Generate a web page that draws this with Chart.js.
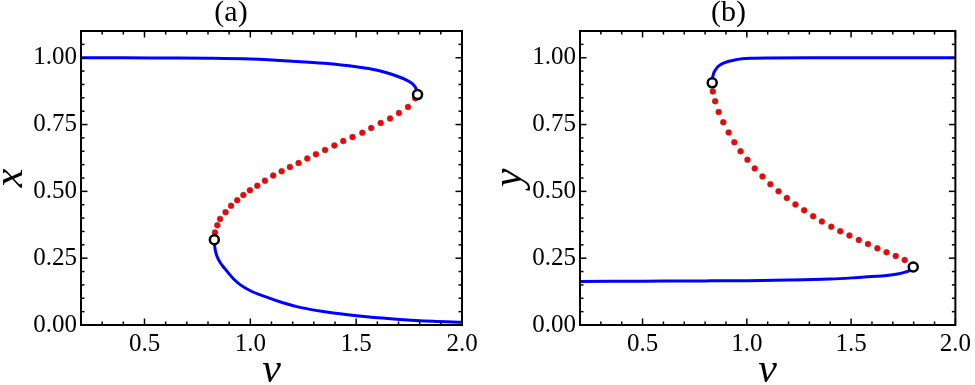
<!DOCTYPE html>
<html>
<head>
<meta charset="utf-8">
<script src="https://cdn.jsdelivr.net/npm/chart.js@4/dist/chart.umd.min.js"></script>
<style>
  html, body { margin: 0; padding: 0; background: #fff; }
  #wrap { position: relative; width: 975px; height: 385px; }
  canvas { position: absolute; top: 0; }
  #ca { left: 0; }
  #cb { left: 499px; }
</style>
</head>
<body>
<div id="wrap">
  <canvas id="ca" width="490" height="385"></canvas>
  <canvas id="cb" width="476" height="385"></canvas>
</div>
<script>
// ticks
var xMajor = [0.5, 1.0, 1.5, 2.0];
var xTickLabels = ['0.5', '1.0', '1.5', '2.0'];
var xMinor = [0.3, 0.4, 0.6, 0.7, 0.8, 0.9, 1.1, 1.2, 1.3, 1.4, 1.6, 1.7, 1.8, 1.9];
var yMajor = [0, 0.25, 0.5, 0.75, 1.0];
var yTickLabels = ['0.00', '0.25', '0.50', '0.75', '1.00'];
var yMinor = [0.05, 0.1, 0.15, 0.2, 0.3, 0.35, 0.4, 0.45, 0.55, 0.6, 0.65, 0.7, 0.8, 0.85, 0.9, 0.95, 1.05];

// panel (a): x vs nu
var aUpperNu = [0.2, 0.4, 0.6, 0.8, 1.0, 1.2, 1.35, 1.5, 1.6, 1.66, 1.71, 1.75, 1.775, 1.786, 1.790];
var aUpperX  = [1.0, 1.0, 0.999, 0.998, 0.995, 0.987, 0.979, 0.966, 0.953, 0.940, 0.926, 0.911, 0.895, 0.878, 0.862];
var aLowerNu = [0.830, 0.8305, 0.832, 0.8345, 0.838, 0.843, 0.850, 0.859, 0.870, 0.884, 0.899, 0.920, 0.950, 0.998, 1.077, 1.15, 1.234, 1.392, 1.55, 1.707, 1.864, 2.0];
var aLowerX  = [0.318, 0.306, 0.293, 0.280, 0.268, 0.256, 0.244, 0.232, 0.220, 0.207, 0.192, 0.173, 0.152, 0.129, 0.104, 0.084, 0.066, 0.045, 0.031, 0.021, 0.014, 0.010];
var aDotsNu = [0.833, 0.844, 0.857, 0.883, 0.909, 0.938, 0.967, 0.998, 1.033, 1.069, 1.108, 1.148, 1.187, 1.228,
               1.269, 1.310, 1.353, 1.397, 1.439, 1.483, 1.529, 1.571, 1.616, 1.660, 1.702, 1.745, 1.779];
var aDotsX  = [0.346, 0.373, 0.397, 0.422, 0.446, 0.467, 0.486, 0.504, 0.521, 0.540, 0.559, 0.575, 0.591, 0.606,
               0.623, 0.639, 0.655, 0.672, 0.688, 0.703, 0.719, 0.737, 0.756, 0.773, 0.793, 0.816, 0.848];
var aFoldNu = [0.830, 1.790];
var aFoldX  = [0.319, 0.862];

// panel (b): y vs nu
var bUpperNu = [0.834, 0.835, 0.838, 0.843, 0.851, 0.862, 0.875, 0.894, 0.914, 0.945, 0.978, 1.03, 1.1, 1.3, 1.6, 2.0];
var bUpperY  = [0.906, 0.920, 0.933, 0.946, 0.956, 0.967, 0.975, 0.982, 0.987, 0.992, 0.996, 0.998, 0.999, 1.0, 1.0, 1.0];
var bLowerNu = [0.2, 0.5, 0.8, 1.0, 1.2, 1.4, 1.52, 1.62, 1.68, 1.73, 1.76, 1.785, 1.798];
var bLowerY  = [0.163, 0.164, 0.165, 0.166, 0.168, 0.172, 0.177, 0.182, 0.186, 0.192, 0.198, 0.206, 0.217];
var bDotsNu = [0.837, 0.848, 0.865, 0.887, 0.913, 0.940, 0.970, 1.003, 1.038, 1.075, 1.113, 1.152, 1.192, 1.233,
               1.275, 1.318, 1.360, 1.405, 1.448, 1.492, 1.537, 1.581, 1.626, 1.670, 1.714, 1.757];
var bDotsY  = [0.874, 0.837, 0.797, 0.759, 0.720, 0.684, 0.650, 0.618, 0.586, 0.556, 0.527, 0.500, 0.475, 0.451,
               0.429, 0.407, 0.387, 0.368, 0.351, 0.335, 0.318, 0.303, 0.287, 0.272, 0.258, 0.243];
var bFoldNu = [0.834, 1.798];
var bFoldY  = [0.906, 0.217];

function pts(xs, ys) {
    return xs.map(function (v, i) { return {x: v, y: ys[i]}; });
}

var framePlugin = {
    id: 'frame',
    afterDatasetsDraw: function (chart) {
        var ctx = chart.ctx, a = chart.chartArea;
        var sx = chart.scales.x, sy = chart.scales.y;
        ctx.save();
        ctx.strokeStyle = '#000';
        ctx.lineWidth = 1.5;
        function seg(x1, y1, x2, y2) {
            ctx.beginPath(); ctx.moveTo(x1, y1); ctx.lineTo(x2, y2); ctx.stroke();
        }
        function xt(v, len) {
            var p = sx.getPixelForValue(v);
            seg(p, a.bottom, p, a.bottom - len);
            seg(p, a.top, p, a.top + len);
        }
        function yt(v, len) {
            var p = sy.getPixelForValue(v);
            seg(a.left, p, a.left + len, p);
            seg(a.right, p, a.right - len, p);
        }
        xMinor.forEach(function (v) { xt(v, 3.5); });
        xMajor.forEach(function (v) { xt(v, 6.5); });
        yMinor.forEach(function (v) { yt(v, 3.5); });
        yMajor.forEach(function (v) { yt(v, 6.5); });
        ctx.lineWidth = 2;
        ctx.strokeRect(a.left, a.top, a.right - a.left, a.bottom - a.top);
        ctx.restore();
    }
};

function makePanel(id, title, yName, padRight, upper, lower, dots, folds) {
    var blue = {showLine: true, pointRadius: 0, borderColor: 'rgb(0,0,255)', borderWidth: 3,
                cubicInterpolationMode: 'monotone', fill: false};
    return new Chart(document.getElementById(id), {
        type: 'scatter',
        data: {
            datasets: [
                {data: folds, pointRadius: 4.5, borderWidth: 2.5, borderColor: '#000', backgroundColor: '#fff', showLine: false},
                {data: dots, pointRadius: 3, borderWidth: 0.5, borderColor: 'rgba(90,90,90,0.8)', backgroundColor: 'rgb(250,0,0)', showLine: false},
                Object.assign({data: upper}, blue),
                Object.assign({data: lower}, blue)
            ]
        },
        options: {
            responsive: false,
            animation: false,
            layout: {padding: {left: 0, right: padRight, top: 0, bottom: 0}},
            plugins: {
                legend: {display: false},
                tooltip: {enabled: false},
                title: {
                    display: true, text: title, color: '#000',
                    font: {family: 'Liberation Serif', size: 30, weight: 'normal', lineHeight: 0.9},
                    padding: {top: 0, bottom: 4}
                }
            },
            scales: {
                x: {
                    type: 'linear', min: 0.2, max: 2.0,
                    grid: {display: false, drawTicks: false},
                    border: {display: false},
                    afterBuildTicks: function (s) { s.ticks = xMajor.map(function (v) { return {value: v}; }); },
                    afterFit: function (s) { s.height = 60; },
                    ticks: {
                        color: '#000', padding: 4, maxRotation: 0, autoSkip: false,
                        font: {family: 'Liberation Serif', size: 25},
                        callback: function (v, i) { return xTickLabels[i]; }
                    },
                    title: {
                        display: true, text: 'ν', color: '#000', padding: 0,
                        font: {family: 'Liberation Serif', size: 42, style: 'italic', lineHeight: 0.65}
                    }
                },
                y: {
                    type: 'linear', min: 0, max: 1.1,
                    grid: {display: false, drawTicks: false},
                    border: {display: false},
                    afterBuildTicks: function (s) { s.ticks = yMajor.map(function (v) { return {value: v}; }); },
                    afterFit: function (s) { s.width = 81; },
                    ticks: {
                        color: '#000', padding: 4, autoSkip: false,
                        font: {family: 'Liberation Serif', size: 25},
                        callback: function (v, i) { return yTickLabels[i]; }
                    },
                    title: {
                        display: true, text: yName, color: '#000', padding: 0,
                        font: {family: 'Liberation Serif', size: 42, style: 'italic', lineHeight: 0.5}
                    }
                }
            }
        },
        plugins: [framePlugin]
    });
}

makePanel('ca', '(a)', 'x', 28, pts(aUpperNu, aUpperX), pts(aLowerNu, aLowerX), pts(aDotsNu, aDotsX), pts(aFoldNu, aFoldX));
makePanel('cb', '(b)', 'y', 17, pts(bUpperNu, bUpperY), pts(bLowerNu, bLowerY), pts(bDotsNu, bDotsY), pts(bFoldNu, bFoldY));
</script>
</body>
</html>
